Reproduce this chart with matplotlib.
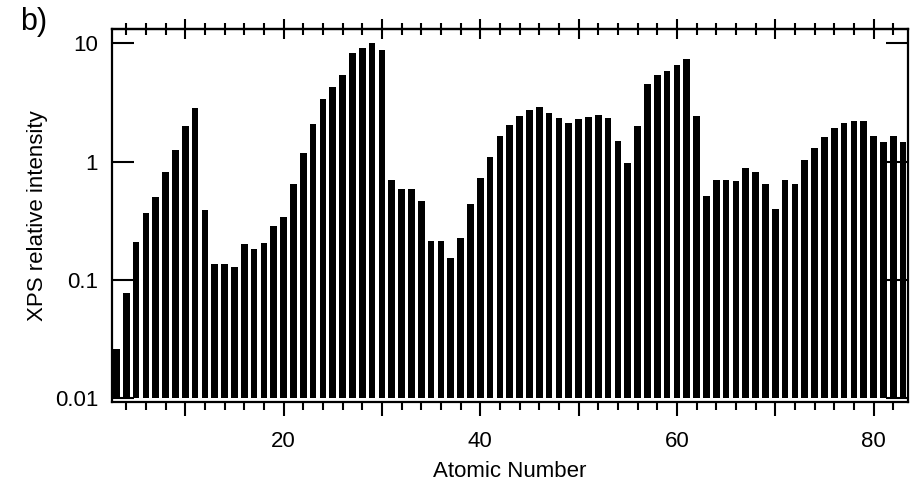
import numpy as np
import matplotlib.pyplot as plt
from matplotlib.ticker import FixedLocator, NullLocator, FuncFormatter

plt.rcParams['font.family'] = ['Liberation Sans', 'DejaVu Sans']

# Atomic numbers 3..83 and XPS relative intensity
atomic_number = np.arange(3, 84)
intensity = [
    0.026, 0.077, 0.21, 0.37, 0.50, 0.82, 1.26, 2.01, 2.86, 0.39,   # 3-12
    0.135, 0.135, 0.128, 0.20, 0.181, 0.207, 0.283, 0.337, 0.65, 1.19,  # 13-22
    2.09, 3.4, 4.3, 5.4, 8.3, 9.2, 10.1, 8.8, 0.70, 0.59,   # 23-32
    0.585, 0.46, 0.215, 0.213, 0.152, 0.224, 0.434, 0.73, 1.10, 1.63,  # 33-42
    2.05, 2.44, 2.75, 2.91, 2.59, 2.35, 2.13, 2.31, 2.40, 2.49,  # 43-52
    2.35, 1.50, 0.98, 2.01, 4.55, 5.4, 5.86, 6.6, 7.4, 2.44,  # 53-62
    0.51, 0.70, 0.70, 0.68, 0.89, 0.81, 0.65, 0.40, 0.70, 0.65,  # 63-72
    1.04, 1.29, 1.60, 1.94, 2.13, 2.22, 2.22, 1.63, 1.47, 1.63,  # 73-82
    1.46,  # 83
]

x_labels = {20: '20', 40: '40', 60: '60', 80: '80'}
base = 0.01  # bars start at the 0.01 line

fig = plt.figure(figsize=(9.2, 4.8), dpi=100)
ax = fig.add_axes([0.1217, 0.1620, 0.8653, 0.7780])

ax.bar(atomic_number, np.array(intensity) - base, width=0.68, bottom=base,
       color='black', edgecolor='none')
ax.set_yscale('log')
ax.set_ylim(0.00925, 13.25)
ax.set_xlim(2.55, 83.5)

for s in ax.spines.values():
    s.set_linewidth(1.6)

# x ticks: major every 10, minor every 2, labels only at 20s
ax.xaxis.set_major_locator(FixedLocator(np.arange(10, 90, 10)))
ax.xaxis.set_minor_locator(FixedLocator([v for v in range(4, 84, 2) if v % 10]))
ax.xaxis.set_major_formatter(FuncFormatter(lambda v, p: x_labels.get(int(round(v)), '')))
ax.tick_params(axis='x', which='major', direction='out', length=10, width=1.5,
               labelsize=16, pad=11)
ax.tick_params(axis='x', which='minor', direction='out', length=6, width=1.5)

# top ticks cross the frame line
sec = ax.secondary_xaxis('top')
sec.xaxis.set_major_locator(FixedLocator(np.arange(10, 90, 10)))
sec.xaxis.set_minor_locator(FixedLocator([v for v in range(4, 84, 2) if v % 10]))
sec.tick_params(axis='x', which='major', direction='inout', length=14, width=1.5,
                labeltop=False)
sec.tick_params(axis='x', which='minor', direction='inout', length=9, width=1.5)
sec.spines['top'].set_linewidth(1.6)

# y ticks: decades, inward on both sides
ax.yaxis.set_major_locator(FixedLocator([0.01, 0.1, 1, 10]))
ax.yaxis.set_minor_locator(NullLocator())
ax.yaxis.set_major_formatter(FuncFormatter(lambda v, p: '%g' % v))
ax.tick_params(axis='y', which='major', direction='in', length=16, width=1.5,
               right=True, labelsize=16, pad=10)

ax.set_xlabel('Atomic Number', fontsize=16, labelpad=6)
ax.set_ylabel('XPS relative intensity', fontsize=16, labelpad=5)

fig.text(0.022, 0.955, 'b)', fontsize=22, va='center', ha='left')

fig.savefig('out.png', dpi=100)
